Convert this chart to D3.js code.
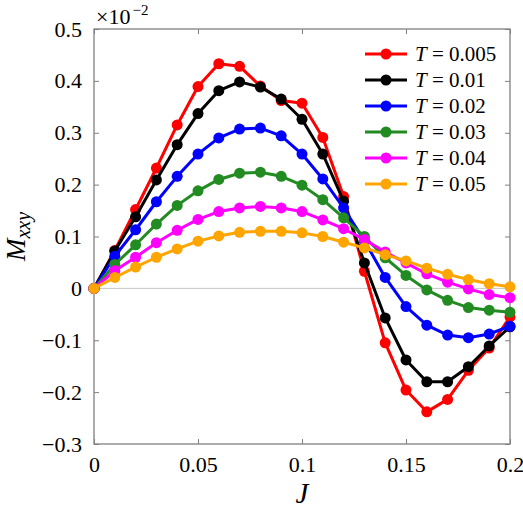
<!DOCTYPE html>
<html>
<head>
<meta charset="utf-8">
<script src="https://cdn.jsdelivr.net/npm/d3@7"></script>
<style>
  body { margin: 0; background: #fff; }
  text { font-family: "Liberation Serif", "DejaVu Serif", serif; }
</style>
</head>
<body>
<script>
// data (values in units of 1e-2)
const jValues = [0, 0.01, 0.02, 0.03, 0.04, 0.05, 0.06, 0.07, 0.08, 0.09, 0.1,
                 0.11, 0.12, 0.13, 0.14, 0.15, 0.16, 0.17, 0.18, 0.19, 0.2];
const tLabels = ["0.005", "0.01", "0.02", "0.03", "0.04", "0.05"];
const m005 = [0, 0.073, 0.152, 0.232, 0.315, 0.389, 0.433, 0.428, 0.390, 0.362, 0.357,
              0.291, 0.177, 0.033, -0.105, -0.196, -0.238, -0.214, -0.158, -0.115, -0.055];
const m01  = [0, 0.072, 0.138, 0.209, 0.277, 0.337, 0.381, 0.398, 0.388, 0.365, 0.326,
              0.259, 0.168, 0.049, -0.057, -0.138, -0.180, -0.180, -0.151, -0.111, -0.074];
const m02  = [0, 0.062, 0.113, 0.167, 0.216, 0.259, 0.290, 0.307, 0.309, 0.294, 0.259,
              0.211, 0.155, 0.092, 0.021, -0.035, -0.071, -0.090, -0.095, -0.088, -0.073];
const m03  = [0, 0.046, 0.084, 0.124, 0.160, 0.188, 0.210, 0.222, 0.224, 0.216, 0.199,
              0.171, 0.136, 0.100, 0.059, 0.025, -0.003, -0.023, -0.037, -0.042, -0.046];
const m04  = [0, 0.034, 0.060, 0.088, 0.112, 0.133, 0.148, 0.155, 0.158, 0.155, 0.148,
              0.132, 0.115, 0.094, 0.070, 0.049, 0.028, 0.012, -0.001, -0.012, -0.018];
const m05  = [0, 0.021, 0.041, 0.060, 0.076, 0.091, 0.101, 0.108, 0.110, 0.110, 0.107,
              0.100, 0.089, 0.078, 0.065, 0.053, 0.039, 0.027, 0.017, 0.009, 0.003];
const xTicks = [0, 0.05, 0.1, 0.15, 0.2];
const yTicks = [-0.3, -0.2, -0.1, 0, 0.1, 0.2, 0.3, 0.4, 0.5];

const seriesValues = [m005, m01, m02, m03, m04, m05];
const colors = ["#ff0000", "#000000", "#0000ff", "#228b22", "#ff00ff", "#ffa500"];

// canvas
const canvWidth = 523, canvHeight = 511;
const svg = d3.select("body").append("svg")
    .attr("width", canvWidth)
    .attr("height", canvHeight);

const margin = {top: 29, right: 13, bottom: 67, left: 94};
const width = canvWidth - margin.left - margin.right;
const height = canvHeight - margin.top - margin.bottom;

const g = svg.append("g")
    .attr("transform", "translate(" + margin.left + "," + margin.top + ")");

const xScale = d3.scaleLinear().domain([0, 0.2]).range([0, width]);
const yScale = d3.scaleLinear().domain([-0.3, 0.5]).range([height, 0]);
const fmt = d3.format("");
const frameColor = "#808080";

// zero line
g.append("line")
    .attr("x1", 0).attr("x2", width)
    .attr("y1", yScale(0)).attr("y2", yScale(0))
    .attr("stroke", "#c4c4c4")
    .attr("stroke-width", 1);

// axes, ticks inward
function styleAxis(sel) {
    sel.select(".domain").remove();
    sel.selectAll(".tick line").attr("stroke", frameColor).attr("stroke-width", 1);
    sel.selectAll("text").attr("fill", "#000")
        .style("font-size", "22px")
        .style("font-family", "'Liberation Serif', serif");
}

g.append("g")
    .attr("transform", "translate(0," + height + ")")
    .call(d3.axisBottom(xScale).tickValues(xTicks).tickFormat(fmt).tickSize(-5).tickPadding(12))
    .call(styleAxis);
g.append("g")
    .call(d3.axisTop(xScale).tickValues(xTicks).tickSize(-5).tickFormat(""))
    .call(styleAxis);
g.append("g")
    .call(d3.axisLeft(yScale).tickValues(yTicks).tickFormat(fmt).tickSize(-5).tickPadding(12))
    .call(styleAxis);
g.append("g")
    .attr("transform", "translate(" + width + ",0)")
    .call(d3.axisRight(yScale).tickValues(yTicks).tickSize(-5).tickFormat(""))
    .call(styleAxis);

// frame
g.append("rect")
    .attr("width", width)
    .attr("height", height)
    .attr("fill", "none")
    .attr("stroke", frameColor)
    .attr("stroke-width", 1.3);

// curves
const line = d3.line()
    .x((d, i) => xScale(jValues[i]))
    .y(d => yScale(d));

seriesValues.forEach(function (vals, k) {
    const s = g.append("g").attr("class", "series");
    s.append("path")
        .datum(vals)
        .attr("d", line)
        .attr("fill", "none")
        .attr("stroke", colors[k])
        .attr("stroke-width", 3)
        .attr("stroke-linejoin", "round");
    s.selectAll("circle")
        .data(vals)
        .join("circle")
        .attr("cx", (d, i) => xScale(jValues[i]))
        .attr("cy", d => yScale(d))
        .attr("r", 5.5)
        .attr("fill", colors[k]);
});

// legend
const legend = svg.append("g")
    .attr("transform", "translate(365,54)");
const entry = legend.selectAll("g")
    .data(tLabels)
    .join("g")
    .attr("transform", (d, i) => "translate(0," + (i * 26) + ")");
entry.append("line")
    .attr("x1", 0).attr("x2", 42)
    .attr("stroke", (d, i) => colors[i])
    .attr("stroke-width", 3);
entry.append("circle")
    .attr("cx", 21)
    .attr("r", 5.5)
    .attr("fill", (d, i) => colors[i]);
const lt = entry.append("text")
    .attr("x", 50)
    .attr("y", 7)
    .style("font-size", "21px");
lt.append("tspan").style("font-style", "italic").text("T");
lt.append("tspan").text(d => " = " + d);

// scale label (x 10^-2)
const sc = svg.append("text")
    .attr("x", 96)
    .attr("y", 24)
    .style("font-size", "22px");
sc.append("tspan").text("×10");
sc.append("tspan").attr("dx", 2).attr("dy", -9).style("font-size", "15px").text("−2");

// axis labels
svg.append("text")
    .attr("x", margin.left + width / 2)
    .attr("y", 503)
    .attr("text-anchor", "middle")
    .style("font-size", "29px")
    .style("font-style", "italic")
    .text("J");

const yl = svg.append("text")
    .attr("transform", "translate(25," + (margin.top + height / 2) + ") rotate(-90)")
    .attr("text-anchor", "middle")
    .style("font-style", "italic");
yl.append("tspan").style("font-size", "27px").text("M");
yl.append("tspan").style("font-size", "20px").attr("dy", 5).text("xxy");
</script>
</body>
</html>
